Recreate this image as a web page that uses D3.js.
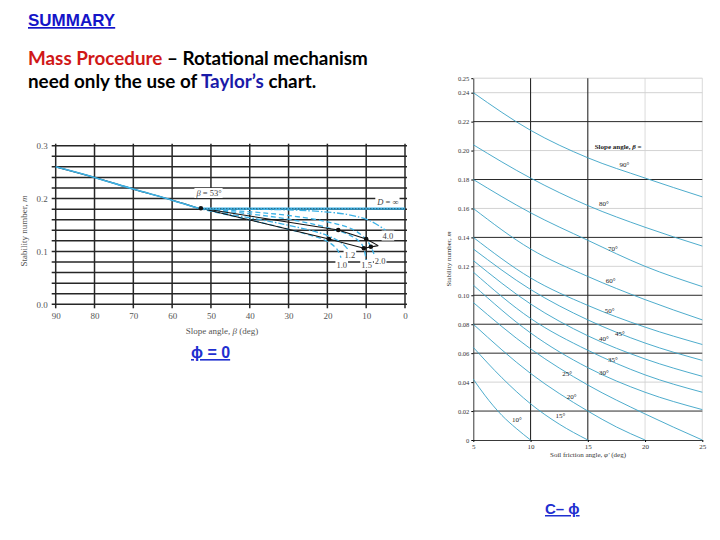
<!DOCTYPE html>
<html>
<head>
<meta charset="utf-8">
<script src="https://cdn.jsdelivr.net/npm/d3@7"></script>
<style>
  body { margin: 0; background: #fff; }
  svg text { font-family: "Liberation Serif", "DejaVu Serif", serif; }
</style>
</head>
<body>
<svg id="slide" width="720" height="540"></svg>
<script>
// ---- phi = 0 chart (Taylor): slope angle beta vs stability number m ----
const leftXTicks = [90, 80, 70, 60, 50, 40, 30, 20, 10, 0];
const leftYTicks = [0, 0.1, 0.2, 0.3];
const leftGridM = [0, 0.02, 0.04, 0.06, 0.08, 0.1, 0.12, 0.14, 0.16, 0.18, 0.2, 0.22, 0.24, 0.26, 0.28, 0.3];

const baseBeta = [90, 80, 70, 60, 53];
const baseM = [0.260, 0.240, 0.218, 0.197, 0.181];
const dInfBeta = [53, 0];
const dInfM = [0.181, 0.181];
const upperBeta = [52.6, 17.2, 10.0, 6.9];
const upperM = [0.1816, 0.1405, 0.1235, 0.111];
const lowerBeta = [52.6, 19.6, 10.6, 6.9];
const lowerM = [0.1816, 0.1235, 0.106, 0.111];
const dotBeta = [52.6, 17.2, 19.6, 10.0, 10.6, 8.8];
const dotM = [0.1816, 0.1405, 0.1235, 0.1235, 0.106, 0.109];

const depthLabels = ["1.0", "1.2", "1.5", "2.0", "4.0"];
const d10Beta = [53, 45, 35, 25, 20, 17.5, 16.5];
const d10M = [0.181, 0.168, 0.151, 0.132, 0.119, 0.104, 0.088];
const d12Beta = [53, 45, 35, 25, 20, 16, 14];
const d12M = [0.181, 0.170, 0.157, 0.141, 0.130, 0.114, 0.097];
const d15Beta = [53, 40, 30, 20, 14, 11, 10];
const d15M = [0.181, 0.171, 0.161, 0.145, 0.130, 0.112, 0.082];
const d20Beta = [53, 40, 30, 20, 13, 9.5, 8];
const d20M = [0.181, 0.175, 0.168, 0.156, 0.140, 0.118, 0.095];
const d40Beta = [53, 40, 25, 15, 9, 5];
const d40M = [0.181, 0.180, 0.177, 0.170, 0.158, 0.140];
// label anchors (beta, m)
const depthLabelBeta = [16.3, 14.2, 9.9, 6.4, 4.4];
const depthLabelM = [0.0724, 0.0914, 0.0724, 0.0806, 0.128];

// ---- c - phi chart (Taylor): friction angle phi vs stability number m ----
const rightXTicks = [5, 10, 15, 20, 25];
const rightYTicks = [0, 0.02, 0.04, 0.06, 0.08, 0.10, 0.12, 0.14, 0.16, 0.18, 0.20, 0.22, 0.24, 0.25];
const darkGridM = [0.02, 0.06, 0.08, 0.10, 0.14, 0.18, 0.22];
const lightGridM = [0.04, 0.12, 0.16, 0.20, 0.24, 0.25];
const darkGridPhi = [10, 15];
const lightGridPhi = [20, 25];

const slopeBeta = [90, 80, 70, 60, 50, 45, 40, 35, 30, 25, 20, 15, 10];
const phiFull = [5, 10, 15, 20, 25];
const phi20 = [5, 10, 15, 17.5, 20];
const phi15 = [5, 7.5, 10, 12.5, 15];
const phi10 = [5, 6, 7.5, 8.75, 10];
const m90 = [0.240, 0.214, 0.195, 0.181, 0.168];
const m80 = [0.204, 0.181, 0.162, 0.147, 0.134];
const m70 = [0.180, 0.157, 0.138, 0.120, 0.106];
const m60 = [0.160, 0.132, 0.113, 0.097, 0.083];
const m50 = [0.140, 0.112, 0.093, 0.078, 0.066];
const m45 = [0.132, 0.104, 0.083, 0.067, 0.055];
const m40 = [0.124, 0.094, 0.072, 0.056, 0.044];
const m35 = [0.116, 0.084, 0.062, 0.045, 0.033];
const m30 = [0.107, 0.074, 0.050, 0.033, 0.021];
const m25 = [0.095, 0.063, 0.038, 0.018, 0];
const m20 = [0.080, 0.046, 0.020, 0.009, 0];
const m15 = [0.064, 0.043, 0.025, 0.011, 0];
const m10 = [0.042, 0.031, 0.017, 0.008, 0];
// label anchors (phi, m)
const slopeLabelPhi = [18.2, 16.4, 17.2, 17.0, 16.9, 17.8, 16.4, 17.2, 16.4, 13.2, 13.6, 12.6, 8.8];
const slopeLabelM = [0.190, 0.163, 0.132, 0.1094, 0.0891, 0.073, 0.0696, 0.0548, 0.0461, 0.0456, 0.0295, 0.0161, 0.0138];

const svg = d3.select("#slide");
const zip = (xs, ys) => xs.map((x, i) => [x, ys[i]]);

// ================= slide text =================
svg.append("text")
  .attr("x", 28).attr("y", 26)
  .style("font-family", "'Liberation Sans', Arial, sans-serif")
  .style("font-weight", "bold").style("font-size", "17px")
  .style("text-decoration", "underline")
  .attr("fill", "#1414c8")
  .text("SUMMARY");

const bodyFont = "Lato, 'Open Sans', sans-serif";
const line1 = svg.append("text").attr("x", 28).attr("y", 65)
  .style("font-family", bodyFont).style("font-weight", "bold").style("font-size", "18px");
line1.append("tspan").attr("fill", "#d01818").text("Mass Procedure");
line1.append("tspan").attr("fill", "#000").text(" \u2013 Rotational mechanism");
const line2 = svg.append("text").attr("x", 28).attr("y", 88)
  .style("font-family", bodyFont).style("font-weight", "bold").style("font-size", "18px");
line2.append("tspan").attr("fill", "#000").text("need only the use of ");
line2.append("tspan").attr("fill", "#1a1aa8").text("Taylor\u2019s");
line2.append("tspan").attr("fill", "#000").text(" chart.");
// fit the body size so line one spans the same width as the slide text
const fit = 18 * 340 / line1.node().getComputedTextLength();
line1.style("font-size", fit + "px");
line2.style("font-size", fit + "px");

svg.append("text").attr("x", 191).attr("y", 358)
  .style("font-family", "'Liberation Sans', Arial, sans-serif")
  .style("font-weight", "bold").style("font-size", "16px")
  .style("text-decoration", "underline")
  .attr("fill", "#1f2fd0")
  .text("\u03d5 = 0");

svg.append("text").attr("x", 545).attr("y", 514)
  .style("font-family", "'Liberation Sans', Arial, sans-serif")
  .style("font-weight", "bold").style("font-size", "15px")
  .style("text-decoration", "underline")
  .attr("fill", "#1f2fd0")
  .text("C\u2013 \u03d5");

// ================= left chart (phi = 0) =================
const xL = d3.scaleLinear().domain([90, 0]).range([55.7, 405]);
const yL = d3.scaleLinear().domain([0, 0.3]).range([304.3, 145.7]);
const gL = svg.append("g");

gL.selectAll("line.hgrid").data(leftGridM).enter().append("line")
  .attr("x1", xL(90) - 4).attr("x2", xL(0) + 2)
  .attr("y1", d => yL(d)).attr("y2", d => yL(d))
  .attr("stroke", "#262626").attr("stroke-width", 1.5);
gL.selectAll("line.vgrid").data(leftXTicks).enter().append("line")
  .attr("x1", d => xL(d)).attr("x2", d => xL(d))
  .attr("y1", yL(0.3) - 2).attr("y2", yL(0) + 4)
  .attr("stroke", "#262626").attr("stroke-width", 1.5);

const axL = gL.append("g").attr("transform", `translate(${xL(90) - 4},0)`)
  .call(d3.axisLeft(yL).tickValues(leftYTicks).tickFormat(d3.format(".1f")).tickSize(0).tickPadding(4));
axL.select(".domain").remove();
axL.selectAll("text").style("font-family", "'Liberation Serif', serif").style("font-size", "9px").attr("fill", "#555");
const axB = gL.append("g").attr("transform", `translate(0,${yL(0) + 4})`)
  .call(d3.axisBottom(xL).tickValues(leftXTicks).tickFormat(d3.format("d")).tickSize(0).tickPadding(4));
axB.select(".domain").remove();
axB.selectAll("text").style("font-family", "'Liberation Serif', serif").style("font-size", "9px").attr("fill", "#555");

gL.append("text").attr("x", 222).attr("y", 334).attr("text-anchor", "middle")
  .style("font-size", "9px").attr("fill", "#555")
  .html("Slope angle, <tspan font-style='italic'>\u03b2</tspan> (deg)");
gL.append("text").attr("transform", "translate(27,231) rotate(-90)").attr("text-anchor", "middle")
  .style("font-size", "9px").attr("fill", "#555")
  .html("Stability number, <tspan font-style='italic'>m</tspan>");

const lineL = d3.line().x(d => xL(d[0])).y(d => yL(d[1])).curve(d3.curveCatmullRom);
const lineStraight = d3.line().x(d => xL(d[0])).y(d => yL(d[1]));

const blueL = "#3cb2e6";
const depthCurves = [zip(d10Beta, d10M), zip(d12Beta, d12M), zip(d15Beta, d15M), zip(d20Beta, d20M), zip(d40Beta, d40M)];
const depthDash = ["5,3", "6,2,1.5,2", "5,3", "5,3", "7,2,1.5,2"];
gL.selectAll("path.depth").data(depthCurves).enter().append("path")
  .attr("d", lineL).attr("fill", "none")
  .attr("stroke", blueL).attr("stroke-width", 1.3)
  .attr("stroke-dasharray", (d, i) => depthDash[i]);

// envelope of minimum circles
gL.append("path").attr("d", lineStraight(zip(upperBeta, upperM)))
  .attr("fill", "none").attr("stroke", "#111").attr("stroke-width", 1.1);
gL.append("path").attr("d", lineStraight(zip(lowerBeta, lowerM)))
  .attr("fill", "none").attr("stroke", "#111").attr("stroke-width", 1.1);
gL.append("path").attr("d", lineL(zip(baseBeta, baseM)))
  .attr("fill", "none").attr("stroke", "#111").attr("stroke-width", 1.2);
gL.append("path").attr("d", lineL(zip(baseBeta, baseM)))
  .attr("fill", "none").attr("stroke", blueL).attr("stroke-width", 1.6);
gL.append("path").attr("d", lineStraight(zip(dInfBeta, dInfM)))
  .attr("fill", "none").attr("stroke", blueL).attr("stroke-width", 2.2);
gL.append("path").attr("d", lineStraight(zip(dInfBeta, dInfM)))
  .attr("fill", "none").attr("stroke", "#222").attr("stroke-width", 0.8).attr("stroke-dasharray", "1,2");

gL.selectAll("circle.dot").data(zip(dotBeta, dotM)).enter().append("circle")
  .attr("cx", d => xL(d[0])).attr("cy", d => yL(d[1])).attr("r", 2.3).attr("fill", "#111");

function boxedLabel(g, x, y, html, size) {
  const t = g.append("text").attr("x", x).attr("y", y)
    .attr("text-anchor", "middle").attr("dominant-baseline", "middle")
    .style("font-size", size + "px").attr("fill", "#444").html(html);
  const b = t.node().getBBox();
  g.insert("rect", () => t.node())
    .attr("x", b.x - 1).attr("y", b.y).attr("width", b.width + 2).attr("height", b.height)
    .attr("fill", "#fff");
}
boxedLabel(gL, xL(50.5), yL(0.2085), "<tspan font-style='italic'>\u03b2</tspan> = 53\u00b0", 8.5);
boxedLabel(gL, xL(4.4), yL(0.192), "<tspan font-style='italic'>D</tspan> = \u221e", 8.5);
depthLabels.forEach((lab, i) => {
  boxedLabel(gL, xL(depthLabelBeta[i]), yL(depthLabelM[i]), lab, 8.5);
});

// ================= right chart (c - phi) =================
const xR = d3.scaleLinear().domain([5, 25]).range([473.3, 702.3]);
const yR = d3.scaleLinear().domain([0, 0.25]).range([440, 78.2]);
const gR = svg.append("g");

gR.selectAll("line.lh").data(lightGridM).enter().append("line")
  .attr("x1", xR(5)).attr("x2", xR(25)).attr("y1", d => yR(d)).attr("y2", d => yR(d))
  .attr("stroke", "#c8c8c8").attr("stroke-width", 0.8);
gR.selectAll("line.lv").data(lightGridPhi).enter().append("line")
  .attr("x1", d => xR(d)).attr("x2", d => xR(d)).attr("y1", yR(0.25)).attr("y2", yR(0))
  .attr("stroke", "#d0d0d0").attr("stroke-width", 0.8);
gR.selectAll("line.dh").data(darkGridM).enter().append("line")
  .attr("x1", xR(5)).attr("x2", xR(25)).attr("y1", d => yR(d)).attr("y2", d => yR(d))
  .attr("stroke", "#2a2a2a").attr("stroke-width", 1);
gR.selectAll("line.dv").data(darkGridPhi).enter().append("line")
  .attr("x1", d => xR(d)).attr("x2", d => xR(d)).attr("y1", yR(0.25)).attr("y2", yR(0))
  .attr("stroke", "#2a2a2a").attr("stroke-width", 1.1);

const axRL = gR.append("g").attr("transform", `translate(${xR(5)},0)`)
  .call(d3.axisLeft(yR).tickValues(rightYTicks)
    .tickFormat(d => d === 0 ? "0" : d3.format(".2f")(d)).tickSize(2).tickSizeOuter(0).tickPadding(2));
axRL.select(".domain").attr("stroke", "#222").attr("stroke-width", 0.9);
axRL.selectAll("text").style("font-family", "'Liberation Serif', serif").style("font-size", "6.5px").attr("fill", "#333");
const axRB = gR.append("g").attr("transform", `translate(0,${yR(0)})`)
  .call(d3.axisBottom(xR).tickValues(rightXTicks).tickSize(2).tickSizeOuter(0).tickPadding(2));
axRB.select(".domain").attr("stroke", "#222").attr("stroke-width", 0.9);
axRB.selectAll("text").style("font-family", "'Liberation Serif', serif").style("font-size", "7px").attr("fill", "#333");

gR.append("text").attr("x", 588).attr("y", 457).attr("text-anchor", "middle")
  .style("font-size", "7px").attr("fill", "#333")
  .html("Soil friction angle, <tspan font-style='italic'>\u03c6\u2032</tspan> (deg)");
gR.append("text").attr("transform", "translate(451,259) rotate(-90)").attr("text-anchor", "middle")
  .style("font-size", "7px").attr("fill", "#333")
  .html("Stability number, <tspan font-style='italic'>m</tspan>");

const slopePhi = [phiFull, phiFull, phiFull, phiFull, phiFull, phiFull, phiFull, phiFull, phiFull, phiFull, phi20, phi15, phi10];
const slopeM = [m90, m80, m70, m60, m50, m45, m40, m35, m30, m25, m20, m15, m10];
const slopeCurves = slopeBeta.map((b, i) => zip(slopePhi[i], slopeM[i]));
const lineR = d3.line().x(d => xR(d[0])).y(d => yR(d[1])).curve(d3.curveMonotoneX);
gR.selectAll("path.slope").data(slopeCurves).enter().append("path")
  .attr("d", lineR).attr("fill", "none")
  .attr("stroke", "#3aa3c6").attr("stroke-width", 0.9);

gR.selectAll("text.slab").data(slopeBeta).enter().append("text")
  .attr("x", (d, i) => xR(slopeLabelPhi[i])).attr("y", (d, i) => yR(slopeLabelM[i]))
  .attr("text-anchor", "middle").attr("dominant-baseline", "middle")
  .style("font-size", "7px").attr("fill", "#222")
  .text(d => d + "\u00b0");
gR.append("text").attr("x", xR(15.6)).attr("y", yR(0.2025))
  .attr("dominant-baseline", "middle")
  .style("font-size", "7px").style("font-weight", "bold").attr("fill", "#222")
  .html("Slope angle, <tspan font-style='italic'>\u03b2</tspan> =");
</script>
</body>
</html>
